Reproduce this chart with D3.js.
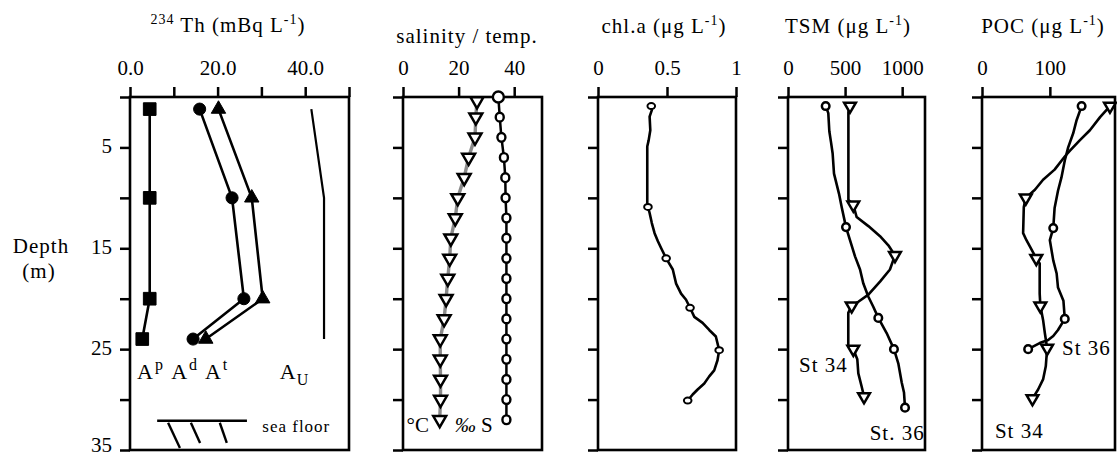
<!DOCTYPE html>
<html>
<head>
<meta charset="utf-8">
<script src="https://cdn.jsdelivr.net/npm/d3@7"></script>
<style>
  body { margin: 0; background: #fff; }
  text { font-family: "Liberation Serif", "Times New Roman", serif; fill: #000; }
  .lbl { letter-spacing: 1px; }
</style>
</head>
<body>
<svg id="chart" width="1117" height="457"></svg>
<script>
// depth ticks shared by every panel
const depthTicks = [0, 5, 10, 15, 20, 25, 30, 35];
const depthLabels = [5, 15, 25, 35];

// 234Th panel: [depth, value]
const thAp = [[1.2, 4.5], [10, 4.5], [20, 4.5], [24, 2.8]];
const thAd = [[1.2, 15.9], [10, 23.3], [20, 26.0], [24, 14.4]];
const thAt = [[1.2, 20.2], [10, 27.8], [20, 30.3], [24, 17.3]];
const thAu = [[1.2, 41.4], [10, 44.3], [24, 44.3]];

// salinity / temperature
const temp = [[0.4, 26.6], [2, 26.2], [4, 25.9], [6, 23.6], [8, 22.0], [10, 19.7], [12, 18.8],
  [14, 17.2], [16, 16.8], [18, 16.1], [20, 15.5], [22, 14.8], [24, 13.4], [26, 13.4],
  [28, 13.5], [30, 13.5], [32, 13.2]];
const salinity = [[0, 34.3], [2, 34.8], [4, 35.4], [6, 36.3], [8, 36.8], [10, 36.9], [12, 37.2],
  [14, 37.2], [16, 37.2], [18, 37.2], [20, 37.2], [22, 37.2], [24, 37.2], [26, 37.2],
  [28, 37.2], [30, 37.2], [32, 37.2]];

// chl.a profile and sample points
const chl = [[0.9, 0.386], [1.3, 0.39], [1.95, 0.374], [3.3, 0.379], [4.3, 0.367], [4.9, 0.357],
  [10.5, 0.357], [10.9, 0.362], [11.5, 0.374], [12.5, 0.39], [13.5, 0.41], [14.3, 0.434],
  [15, 0.458], [16, 0.494], [17.1, 0.542], [18.5, 0.566], [19.5, 0.602], [20.1, 0.638],
  [20.9, 0.667], [21.8, 0.698], [22.4, 0.758], [23.1, 0.806], [23.75, 0.854], [25.1, 0.878],
  [26.1, 0.866], [27.1, 0.842], [27.7, 0.806], [28.4, 0.77], [29, 0.722], [29.5, 0.686], [30.1, 0.65]];
const chlSamples = [[0.9, 0.386], [10.9, 0.362], [16, 0.494], [20.9, 0.667], [25.1, 0.878], [30.1, 0.65]];

// TSM
const tsm36 = [[0.9, 330], [1.6, 353], [3.4, 362], [4.5, 377], [5.6, 391], [7.6, 403], [9.6, 447],
  [10.9, 470], [12.9, 508], [14.2, 543], [15.8, 587], [17.1, 631], [18.5, 660], [19.8, 704],
  [20.8, 747], [21.9, 791], [23.4, 864], [25, 928], [26.4, 966], [28.3, 996], [29.3, 1016], [30.8, 1025]];
const tsm36Samples = [[0.9, 330], [12.9, 508], [21.9, 791], [25, 928], [30.8, 1025]];
const tsm34 = [[0.9, 543], [1.5, 529], [10.2, 529], [10.7, 572], [11.9, 601], [12.8, 704], [13.8, 806],
  [14.7, 879], [15.7, 937], [17.1, 893], [18.3, 806], [19.6, 704], [20.3, 616], [20.7, 558],
  [21.4, 528], [24.7, 528], [25, 572], [26, 607], [27.4, 616], [28.7, 645], [29.7, 666]];
const tsm34Samples = [[0.9, 543], [10.7, 572], [15.7, 937], [20.7, 558], [25, 572], [29.7, 666]];

// POC
const poc36 = [[0.9, 146.8], [2.3, 139.4], [3.6, 134.4], [5, 127], [6.3, 122], [8, 117], [9.3, 112],
  [11, 107], [13, 105], [14.2, 100], [16.2, 105], [17.5, 110], [18.9, 112], [20.2, 120], [22, 122],
  [23.1, 112], [23.7, 105], [24.1, 97.5], [24.4, 85], [25, 68]];
const poc36Samples = [[0.9, 146.8], [13, 105], [22, 122], [25, 68]];
const poc34 = [[0.9, 188.6], [2, 174], [3.3, 159], [4.3, 144], [5.3, 130], [5.9, 122], [7.2, 107],
  [8.2, 90], [9.2, 78], [10, 64.5], [10.9, 61.6], [13.5, 60.6], [14.2, 65.5], [14.8, 70.5], [16, 80],
  [16.5, 85], [19.5, 85], [20.7, 86], [22.1, 90], [23.4, 92.6], [24.9, 96], [26.7, 94], [28, 90],
  [29, 82.7], [29.9, 74.4]];
const poc34Samples = [[0.9, 188.6], [10, 64.5], [16, 80], [20.7, 86], [24.9, 96], [29.9, 74.4]];

const svg = d3.select("#chart");
const y = d3.scaleLinear().domain([0, 35]).range([97, 450]);

function panel(domain, range, ticks, fmt, withLabels) {
  const x = d3.scaleLinear().domain(domain).range(range);
  const g = svg.append("g");

  const xAxis = g.append("g").attr("transform", "translate(0," + y(0) + ")")
    .call(d3.axisTop(x).tickValues(ticks).tickFormat(fmt).tickSize(10).tickPadding(12));
  const yAxis = g.append("g").attr("transform", "translate(" + range[0] + ",0)")
    .call(d3.axisLeft(y).tickValues(depthTicks).tickSize(10).tickPadding(8)
      .tickFormat(d => withLabels && depthLabels.includes(d) ? d : ""));

  [xAxis, yAxis].forEach(a => {
    a.select(".domain").remove();
    a.selectAll("line").attr("stroke", "#000").attr("stroke-width", 2.5);
    a.selectAll("text").attr("font-size", 21);
  });
  // bottom label (35) sits at the picture edge, nudge it up a little
  yAxis.selectAll("text").attr("dy", d => d === 35 ? "0.05em" : "0.25em");

  g.append("rect")
    .attr("x", range[0]).attr("y", y(0))
    .attr("width", range[1] - range[0]).attr("height", y(35) - y(0))
    .attr("fill", "none").attr("stroke", "#000").attr("stroke-width", 2.6);
  return { x: x, g: g };
}

function drawLine(p, data, color, width) {
  p.g.append("path").datum(data)
    .attr("fill", "none").attr("stroke", color).attr("stroke-width", width)
    .attr("stroke-linejoin", "round")
    .attr("d", d3.line().x(d => p.x(d[1])).y(d => y(d[0])));
}

function drawSymbols(p, data, type, size, filled, rotate) {
  p.g.selectAll(null).data(data).join("path")
    .attr("transform", d => "translate(" + p.x(d[1]) + "," + y(d[0]) + ")" + (rotate ? " rotate(180)" : ""))
    .attr("d", d3.symbol().type(type).size(size))
    .attr("fill", filled ? "#000" : "#fff")
    .attr("stroke", "#000").attr("stroke-width", filled ? 1 : 2.5);
}

function title(x, yy, parts) {
  const t = svg.append("text").attr("x", x).attr("y", yy).attr("text-anchor", "middle")
    .attr("font-size", 21).attr("class", "lbl");
  parts.forEach(p => {
    t.append("tspan").text(p[0])
      .attr("font-size", p[1] ? 14 : 21)
      .attr("dy", p[1] === "sup" ? -8 : (p[2] ? 8 : 0));
  });
}

// titles
title(228, 32, [["234", "sup"], [" Th (mBq L", null, true], ["-1", "sup"], [")", null, true]]);
svg.append("text").attr("x", 467).attr("y", 43).attr("text-anchor", "middle")
  .attr("font-size", 21).attr("class", "lbl").text("salinity / temp.");
title(664, 33, [["chl.a (μg L"], ["-1", "sup"], [")", null, true]]);
title(848, 33, [["TSM (μg L"], ["-1", "sup"], [")", null, true]]);
title(1043, 33, [["POC (μg L"], ["-1", "sup"], [")", null, true]]);

svg.append("text").attr("x", 41).attr("y", 253).attr("text-anchor", "middle")
  .attr("font-size", 21).attr("class", "lbl").text("Depth");
svg.append("text").attr("x", 39).attr("y", 278).attr("text-anchor", "middle")
  .attr("font-size", 21).attr("class", "lbl").text("(m)");

// panel 1: 234Th
const p1 = panel([0, 50], [130, 349], [0, 10, 20, 30, 40, 50],
  d => d % 20 === 0 && d < 50 ? d.toFixed(1) : "", true);
drawLine(p1, thAp, "#000", 2.6);
drawLine(p1, thAd, "#000", 2.6);
drawLine(p1, thAt, "#000", 2.6);
drawLine(p1, thAu, "#000", 2.2);
drawSymbols(p1, thAp, d3.symbolSquare, 160, true);
drawSymbols(p1, thAd, d3.symbolCircle, 115, true);
drawSymbols(p1, thAt, d3.symbolTriangle, 90, true);

function aLabel(p, val, depth, sub, isSub) {
  const t = p.g.append("text").attr("x", p.x(val)).attr("y", y(depth)).attr("font-size", 22);
  t.append("tspan").text("A");
  t.append("tspan").text(sub).attr("font-size", 16).attr("dy", isSub ? 6 : -9).attr("dx", isSub ? 1 : 2);
}
aLabel(p1, 1.6, 28.0, "p");
aLabel(p1, 9.4, 28.0, "d");
aLabel(p1, 17.1, 28.0, "t");
aLabel(p1, 34.2, 28.0, "U", true);

// sea floor symbol
const seaFloor = p1.g.append("g").attr("stroke", "#000").attr("stroke-width", 2.4);
seaFloor.append("line").attr("x1", p1.x(6.2)).attr("x2", p1.x(26.7)).attr("y1", y(32.1)).attr("y2", y(32.1));
[[8.7, 11.4, 34.8], [13.9, 16.0, 34.3], [20.5, 22.1, 34.3]].forEach(h => {
  seaFloor.append("line").attr("x1", p1.x(h[0])).attr("y1", y(32.3))
    .attr("x2", p1.x(h[1])).attr("y2", y(h[2]));
});
p1.g.append("text").attr("x", p1.x(30.2)).attr("y", y(33.2)).attr("font-size", 17)
  .attr("class", "lbl").text("sea floor");

// panel 2: salinity / temp
const p2 = panel([0, 50], [403, 542], [0, 20, 40], d => d, false);
drawLine(p2, temp, "#8a8a8a", 3.4);
drawSymbols(p2, temp, d3.symbolTriangle, 72, false, true);
drawLine(p2, salinity, "#000", 2.5);
p2.g.selectAll(null).data(salinity).join("ellipse")
  .attr("cx", d => p2.x(d[1])).attr("cy", d => y(d[0]))
  .attr("rx", (d, i) => i === 0 ? 5.5 : 4).attr("ry", (d, i) => i === 0 ? 5.5 : 4.4)
  .attr("fill", "#fff").attr("stroke", "#000").attr("stroke-width", 2.4);
p2.g.append("text").attr("x", p2.x(1.3)).attr("y", y(33.2)).attr("font-size", 21).text("°C");
const ps = p2.g.append("text").attr("x", p2.x(18.6)).attr("y", y(33.2)).attr("font-size", 21);
ps.append("tspan").text("‰").attr("font-style", "italic");
ps.append("tspan").text(" S");

// panel 3: chl.a
const p3 = panel([0, 1], [598, 736], [0, 0.5, 1], d => d, false);
drawLine(p3, chl, "#000", 2.6);
p3.g.selectAll(null).data(chlSamples).join("ellipse")
  .attr("cx", d => p3.x(d[1])).attr("cy", d => y(d[0]))
  .attr("rx", 3.8).attr("ry", 3)
  .attr("fill", "#fff").attr("stroke", "#000").attr("stroke-width", 2);

// panel 4: TSM
const p4 = panel([0, 1200], [788, 925], [0, 500, 1000], d => d, false);
drawLine(p4, tsm36, "#000", 2.6);
drawLine(p4, tsm34, "#000", 2.6);
drawSymbols(p4, tsm36Samples, d3.symbolCircle, 45, false);
drawSymbols(p4, tsm34Samples, d3.symbolTriangle, 60, false, true);
p4.g.append("text").attr("x", p4.x(97)).attr("y", y(27.3)).attr("font-size", 21).attr("class", "lbl").text("St 34");
p4.g.append("text").attr("x", p4.x(715)).attr("y", y(34)).attr("font-size", 21).attr("class", "lbl").text("St. 36");

// panel 5: POC
const p5 = panel([0, 196], [982, 1115], [0, 100], d => d, false);
drawLine(p5, poc36, "#000", 2.6);
drawLine(p5, poc34, "#000", 2.6);
drawSymbols(p5, poc36Samples, d3.symbolCircle, 45, false);
drawSymbols(p5, poc34Samples, d3.symbolTriangle, 60, false, true);
p5.g.append("text").attr("x", p5.x(118)).attr("y", y(25.6)).attr("font-size", 21).attr("class", "lbl").text("St 36");
p5.g.append("text").attr("x", p5.x(19)).attr("y", y(33.8)).attr("font-size", 21).attr("class", "lbl").text("St 34");
</script>
</body>
</html>
